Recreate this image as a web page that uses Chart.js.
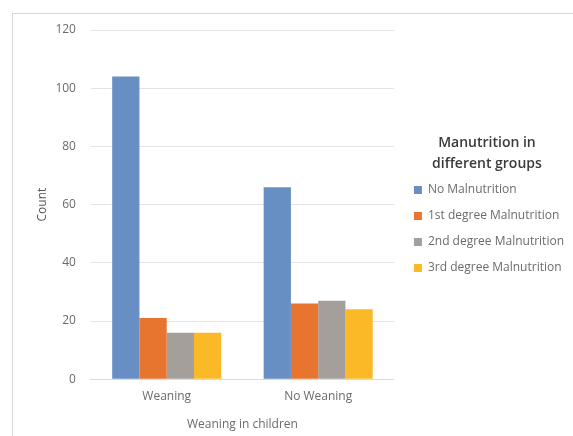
<!DOCTYPE html>
<html>
<head>
<meta charset="utf-8">
<script src="https://cdn.jsdelivr.net/npm/chart.js@4"></script>
<style>
  html, body { margin: 0; padding: 0; background: #fff; }
  .frame {
    position: absolute; left: 12px; top: 13px;
    width: 561px; height: 423px;
    border-left: 1px solid #d9d9d9; border-top: 1px solid #d9d9d9;
    box-sizing: border-box;
  }
  .frame canvas { display: block; }
</style>
</head>
<body>
<div class="frame">
  <canvas id="barChart" width="560" height="422"></canvas>
</div>
<script>
// categories and series
const categories = ["Weaning", "No Weaning"];
const noMalnutrition = [104, 66];
const firstDegree = [21, 26];
const secondDegree = [16, 27];
const thirdDegree = [16, 24];
const yTicks = [0, 20, 40, 60, 80, 100, 120];

const textColor = "#6b6b6b";
const fontFamily = "'Open Sans', sans-serif";

// nudge the legend a bit right of the plot, like the original
const legendShift = {
  id: "legendShift",
  afterLayout(chart) {
    chart.legend.left += 6;
    chart.legend.right += 6;
  },
};

const ctx = document.getElementById("barChart").getContext("2d");
const barChart = new Chart(ctx, {
  type: "bar",
  data: {
    labels: categories,
    datasets: [
      { label: "No Malnutrition", data: noMalnutrition, backgroundColor: "#678fc4" },
      { label: "1st degree Malnutrition", data: firstDegree, backgroundColor: "#e8752f" },
      { label: "2nd degree Malnutrition", data: secondDegree, backgroundColor: "#a59f9b" },
      { label: "3rd degree Malnutrition", data: thirdDegree, backgroundColor: "#fbb827" },
    ],
  },
  plugins: [legendShift],
  options: {
    responsive: false,
    animation: false,
    layout: {
      padding: { top: 16, left: 22, right: 5, bottom: 4 },
    },
    datasets: {
      bar: { barPercentage: 1, categoryPercentage: 0.72 },
    },
    scales: {
      x: {
        grid: { display: false, drawTicks: false },
        border: { color: "#d9d9d9" },
        ticks: {
          color: textColor,
          padding: 10,
          font: { family: fontFamily, size: 12 },
        },
        title: {
          display: true,
          text: "Weaning in children",
          color: textColor,
          padding: { top: 4, bottom: 0 },
          font: { family: fontFamily, size: 12 },
        },
      },
      y: {
        min: 0,
        max: 120,
        afterBuildTicks: (axis) => {
          axis.ticks = yTicks.map((v) => ({ value: v }));
        },
        grid: { color: "#e3e3e3", drawTicks: false },
        border: { display: false },
        ticks: {
          color: textColor,
          padding: 15,
          // small line height so the top label doesn't push the plot down
          font: { family: fontFamily, size: 12, lineHeight: 0.1 },
        },
        title: {
          display: true,
          text: "Count",
          color: "#555",
          padding: { top: 0, bottom: -9 },
          font: { family: fontFamily, size: 12 },
        },
      },
    },
    plugins: {
      legend: {
        position: "right",
        align: "start",
        maxWidth: 200,
        title: {
          display: true,
          text: ["Manutrition in", "different groups"],
          color: "#3a3a3a",
          padding: { top: 106, bottom: 13 },
          font: { family: fontFamily, size: 14, weight: 600, lineHeight: 1.5 },
        },
        labels: {
          boxWidth: 8,
          boxHeight: 8,
          padding: 14,
          color: textColor,
          font: { family: fontFamily, size: 12 },
        },
      },
      tooltip: { enabled: false },
    },
  },
});
</script>
</body>
</html>
